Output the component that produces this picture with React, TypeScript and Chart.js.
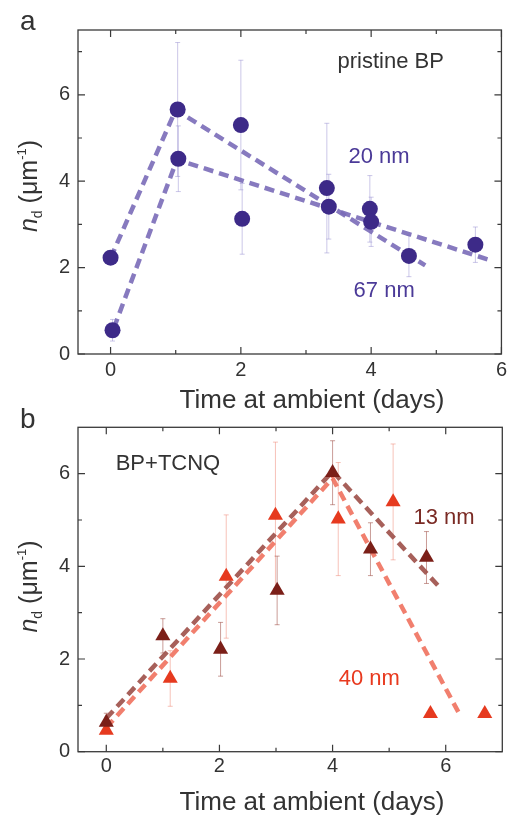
import React, { useEffect, useRef } from 'react';
import { Chart, registerables } from 'chart.js';
Chart.register(...registerables);

const FONT = '"Liberation Sans", Arial, Helvetica, sans-serif';

// ---------- Panel a: pristine BP ----------
const A_X = [0, 0.03, 1.03, 1.04, 2.0, 2.02, 3.32, 3.35, 3.98, 4.0, 4.58, 5.6];
const A_Y = [2.23, 0.55, 5.66, 4.52, 5.3, 3.13, 3.84, 3.41, 3.36, 3.06, 2.27, 2.53];
const A_ERR = [0, 0.25, 1.55, 0.76, 1.5, 0.82, 1.5, 0.75, 0.77, 0.57, 0.48, 0.41];
const A_FIT1_X = [0, 1, 4.83];
const A_FIT1_Y = [2.22, 5.65, 2.05];
const A_FIT2_X = [0.05, 1.02, 5.83];
const A_FIT2_Y = [0.6, 4.5, 2.17];
const A_XTICKS = [0, 2, 4, 6];
const A_XMINOR = [1, 3, 5];
const A_YTICKS = [0, 2, 4, 6];
const A_YMINOR = [1, 3, 5, 7];

// ---------- Panel b: BP+TCNQ ----------
const B13_X = [0, 1.0, 2.02, 3.02, 4.0, 4.67, 5.66];
const B13_Y = [0.63, 2.5, 2.21, 3.48, 6.02, 4.37, 4.19];
const B13_ERR = [0.2, 0.37, 0.58, 0.74, 0.69, 0.57, 0.56];
const B40_X = [0, 1.13, 2.12, 2.99, 4.1, 5.07, 5.73, 6.69];
const B40_Y = [0.46, 1.58, 3.78, 5.1, 5.02, 5.39, 0.82, 0.82];
const B40_ERR = [0.05, 0.6, 1.33, 1.58, 1.22, 1.25, 0.05, 0.05];
const B13_FIT_X = [0, 4, 5.86];
const B13_FIT_Y = [0.72, 6.05, 3.59];
const B40_FIT_X = [0, 4, 6.27];
const B40_FIT_Y = [0.52, 5.9, 0.75];
const B_XTICKS = [0, 2, 4, 6];
const B_XMINOR = [1, 3, 5];
const B_YTICKS = [0, 2, 4, 6];
const B_YMINOR = [1, 3, 5];

type Txt = { text: string; x: number; y: number; color: string; size: number };

const pts = (xs: number[], ys: number[]) => xs.map((x, i) => ({ x, y: ys[i] }));

function drawYTitle(ctx: CanvasRenderingContext2D, cx: number, cy: number) {
  ctx.save();
  ctx.translate(cx, cy);
  ctx.rotate(-Math.PI / 2);
  ctx.fillStyle = '#333';
  ctx.textBaseline = 'alphabetic';
  ctx.textAlign = 'left';
  const parts = [
    { t: 'n', f: `italic 25px ${FONT}`, dy: 0 },
    { t: 'd', f: `14px ${FONT}`, dy: 5 },
    { t: ' (μm', f: `25px ${FONT}`, dy: 0 },
    { t: '-1', f: `13px ${FONT}`, dy: -11 },
    { t: ')', f: `25px ${FONT}`, dy: 0 },
  ];
  let total = 0;
  const widths = parts.map((p) => {
    ctx.font = p.f;
    const w = ctx.measureText(p.t).width;
    total += w;
    return w;
  });
  let x = -total / 2;
  parts.forEach((p, i) => {
    ctx.font = p.f;
    ctx.fillText(p.t, x, p.dy);
    x += widths[i];
  });
  ctx.restore();
}

function makePlugin(cfg: {
  errSets: { xs: number[]; ys: number[]; err: number[]; color: string }[];
  xMajor: number[];
  xMinor: number[];
  yMajor: number[];
  yMinor: number[];
  letter: string;
  letterY: number;
  xTitleY: number;
  yTitleCY: number;
  notes: Txt[];
}) {
  return {
    id: 'custom',
    beforeDatasetsDraw(chart: any) {
      const { ctx, scales } = chart;
      const xs = scales.x;
      const ys = scales.y;
      ctx.save();
      ctx.lineWidth = 1;
      cfg.errSets.forEach((s) => {
        ctx.strokeStyle = s.color;
        s.xs.forEach((xv, i) => {
          const e = s.err[i];
          if (!e) return;
          const px = xs.getPixelForValue(xv);
          const top = ys.getPixelForValue(s.ys[i] + e);
          const bot = ys.getPixelForValue(s.ys[i] - e);
          ctx.beginPath();
          ctx.moveTo(px, top);
          ctx.lineTo(px, bot);
          ctx.moveTo(px - 2.5, top);
          ctx.lineTo(px + 2.5, top);
          ctx.moveTo(px - 2.5, bot);
          ctx.lineTo(px + 2.5, bot);
          ctx.stroke();
        });
      });
      ctx.restore();
    },
    afterDatasetsDraw(chart: any) {
      const { ctx, scales, chartArea: a } = chart;
      const xs = scales.x;
      const ys = scales.y;
      ctx.save();
      ctx.strokeStyle = '#3a3a3a';
      ctx.lineWidth = 1.3;
      ctx.strokeRect(a.left, a.top, a.right - a.left, a.bottom - a.top);
      ctx.lineWidth = 1.2;
      const tickX = (v: number, len: number) => {
        const p = xs.getPixelForValue(v);
        ctx.beginPath();
        ctx.moveTo(p, a.bottom);
        ctx.lineTo(p, a.bottom - len);
        ctx.moveTo(p, a.top);
        ctx.lineTo(p, a.top + len);
        ctx.stroke();
      };
      const tickY = (v: number, len: number) => {
        const p = ys.getPixelForValue(v);
        ctx.beginPath();
        ctx.moveTo(a.left, p);
        ctx.lineTo(a.left + len, p);
        ctx.moveTo(a.right, p);
        ctx.lineTo(a.right - len, p);
        ctx.stroke();
      };
      cfg.xMajor.forEach((v) => tickX(v, 7));
      cfg.xMinor.forEach((v) => tickX(v, 4));
      cfg.yMajor.forEach((v) => tickY(v, 7));
      cfg.yMinor.forEach((v) => tickY(v, 4));

      // annotations
      ctx.textAlign = 'center';
      ctx.textBaseline = 'middle';
      cfg.notes.forEach((n) => {
        ctx.font = `${n.size}px ${FONT}`;
        ctx.fillStyle = n.color;
        ctx.fillText(n.text, xs.getPixelForValue(n.x), ys.getPixelForValue(n.y));
      });

      // panel letter
      ctx.font = `28px ${FONT}`;
      ctx.fillStyle = '#333';
      ctx.textAlign = 'left';
      ctx.textBaseline = 'alphabetic';
      ctx.fillText(cfg.letter, 20, cfg.letterY);

      // x title
      ctx.font = `26px ${FONT}`;
      ctx.textAlign = 'center';
      ctx.fillText('Time at ambient (days)', 312, cfg.xTitleY);
      ctx.restore();

      drawYTitle(ctx, 37, cfg.yTitleCY);
    },
  };
}

function axisOpts(min: number, max: number, major: number[], pad: number, fit: (s: any) => void) {
  return {
    type: 'linear',
    min,
    max,
    grid: { display: false, drawTicks: false },
    border: { display: false },
    ticks: {
      padding: pad,
      color: '#333',
      font: { family: FONT, size: 20 },
      callback: (v: any) => String(v),
    },
    afterBuildTicks: (s: any) => {
      s.ticks = major.map((v) => ({ value: v }));
    },
    afterFit: fit,
  };
}

function PanelA() {
  const ref = useRef<HTMLCanvasElement>(null);
  useEffect(() => {
    const purpleLine = 'rgba(122,108,184,0.9)';
    const chart = new Chart(ref.current!, {
      type: 'scatter',
      data: {
        datasets: [
          {
            type: 'line',
            data: pts(A_FIT1_X, A_FIT1_Y),
            borderColor: purpleLine,
            borderWidth: 4.5,
            borderDash: [10, 6],
            pointRadius: 0,
            fill: false,
            order: 2,
          } as any,
          {
            type: 'line',
            data: pts(A_FIT2_X, A_FIT2_Y),
            borderColor: purpleLine,
            borderWidth: 4.5,
            borderDash: [10, 6],
            pointRadius: 0,
            fill: false,
            order: 2,
          } as any,
          {
            data: pts(A_X, A_Y),
            pointRadius: 8,
            pointBackgroundColor: '#3d2a88',
            pointBorderColor: '#3d2a88',
            pointBorderWidth: 0,
            order: 1,
          },
        ],
      },
      options: {
        responsive: false,
        animation: false,
        devicePixelRatio: 1,
        layout: { padding: { left: 0, right: 8, top: 30, bottom: 0 } },
        plugins: { legend: { display: false }, tooltip: { enabled: false } },
        scales: {
          x: axisOpts(-0.5, 6, A_XTICKS, 4, (s: any) => { s.height = 66; }) as any,
          y: axisOpts(0, 7.5, A_YTICKS, 8, (s: any) => { s.width = 78; }) as any,
        },
      },
      plugins: [
        makePlugin({
          errSets: [{ xs: A_X, ys: A_Y, err: A_ERR, color: 'rgba(140,130,205,0.45)' }],
          xMajor: A_XTICKS,
          xMinor: A_XMINOR,
          yMajor: A_YTICKS,
          yMinor: A_YMINOR,
          letter: 'a',
          letterY: 30,
          xTitleY: 407.5,
          yTitleCY: 186,
          notes: [
            { text: 'pristine BP', x: 4.3, y: 6.77, color: '#333', size: 22 },
            { text: '20 nm', x: 4.12, y: 4.57, color: '#4b3a98', size: 22 },
            { text: '67 nm', x: 4.2, y: 1.45, color: '#4b3a98', size: 22 },
          ],
        }),
      ],
    } as any);
    return () => chart.destroy();
  }, []);
  return (
    <canvas
      ref={ref}
      width={511}
      height={420}
      style={{ position: 'absolute', left: 0, top: 0, width: 511, height: 420 }}
    />
  );
}

function PanelB() {
  const ref = useRef<HTMLCanvasElement>(null);
  useEffect(() => {
    const chart = new Chart(ref.current!, {
      type: 'scatter',
      data: {
        datasets: [
          {
            type: 'line',
            data: pts(B13_FIT_X, B13_FIT_Y),
            borderColor: 'rgba(160,82,76,0.92)',
            borderWidth: 4.5,
            borderDash: [10, 6],
            pointRadius: 0,
            fill: false,
            order: 3,
          } as any,
          {
            type: 'line',
            data: pts(B40_FIT_X, B40_FIT_Y),
            borderColor: 'rgba(240,116,98,0.92)',
            borderWidth: 4.5,
            borderDash: [10, 6],
            pointRadius: 0,
            fill: false,
            order: 2,
          } as any,
          {
            data: pts(B40_X, B40_Y),
            pointStyle: 'triangle',
            pointRadius: 8.7,
            pointBackgroundColor: '#e63a1f',
            pointBorderColor: '#e63a1f',
            pointBorderWidth: 0,
            order: 1,
          },
          {
            data: pts(B13_X, B13_Y),
            pointStyle: 'triangle',
            pointRadius: 8.7,
            pointBackgroundColor: '#7b1f18',
            pointBorderColor: '#7b1f18',
            pointBorderWidth: 0,
            order: 0,
          },
        ],
      },
      options: {
        responsive: false,
        animation: false,
        devicePixelRatio: 1,
        layout: { padding: { left: 0, right: 8, top: 27.3, bottom: 0 } },
        plugins: { legend: { display: false }, tooltip: { enabled: false } },
        scales: {
          x: axisOpts(-0.5, 7, B_XTICKS, 3, (s: any) => { s.height = 64.3; }) as any,
          y: axisOpts(0, 7, B_YTICKS, 8, (s: any) => { s.width = 78; }) as any,
        },
      },
      plugins: [
        makePlugin({
          errSets: [
            { xs: B40_X, ys: B40_Y, err: B40_ERR, color: 'rgba(238,120,100,0.45)' },
            { xs: B13_X, ys: B13_Y, err: B13_ERR, color: 'rgba(150,60,50,0.5)' },
          ],
          xMajor: B_XTICKS,
          xMinor: B_XMINOR,
          yMajor: B_YTICKS,
          yMinor: B_YMINOR,
          letter: 'b',
          letterY: 28.3,
          xTitleY: 410,
          yTitleCY: 186.5,
          notes: [
            { text: 'BP+TCNQ', x: 1.09, y: 6.22, color: '#333', size: 22 },
            { text: '13 nm', x: 5.97, y: 5.04, color: '#7a2a24', size: 22 },
            { text: '40 nm', x: 4.65, y: 1.57, color: '#e8391e', size: 22 },
          ],
        }),
      ],
    } as any);
    return () => chart.destroy();
  }, []);
  return (
    <canvas
      ref={ref}
      width={511}
      height={416}
      style={{ position: 'absolute', left: 0, top: 400, width: 511, height: 416 }}
    />
  );
}

export default function App() {
  return (
    <div style={{ position: 'absolute', left: 0, top: 0, width: 511, height: 816, background: '#fff' }}>
      <PanelA />
      <PanelB />
    </div>
  );
}
